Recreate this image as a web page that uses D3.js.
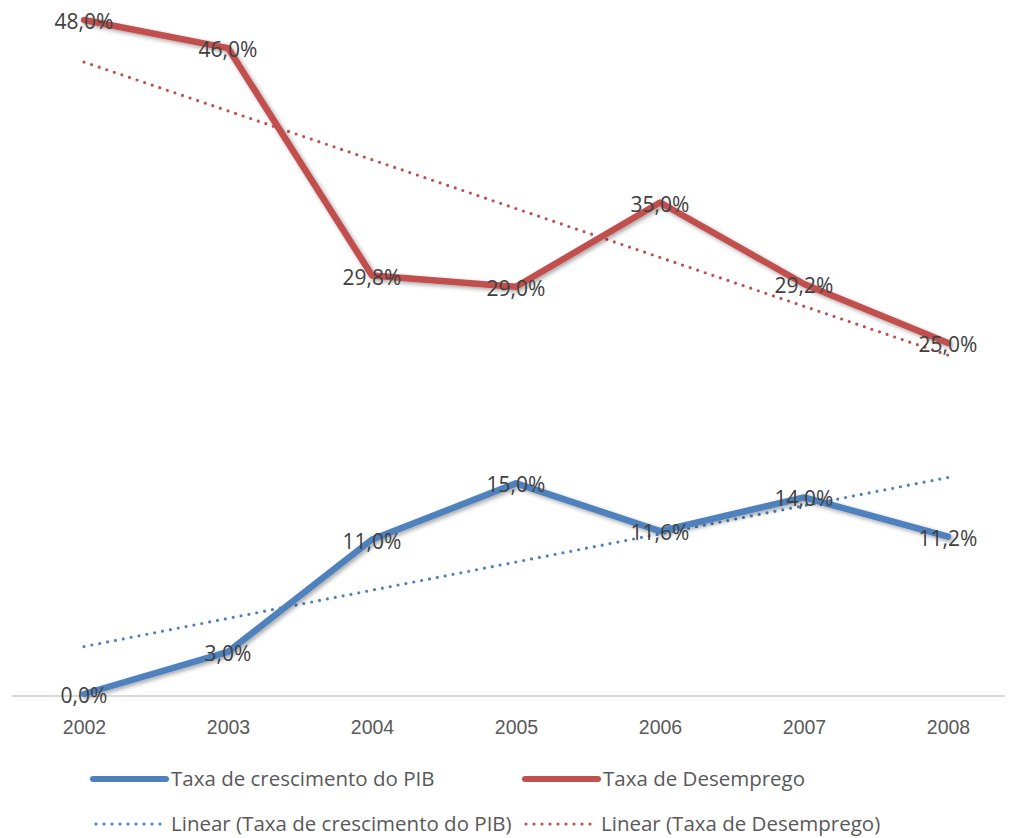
<!DOCTYPE html>
<html><head><meta charset="utf-8">
<script src="https://cdn.jsdelivr.net/npm/d3@7"></script>
<style>body{margin:0;background:#fff}svg{display:block;font-family:"Open Sans",sans-serif}</style>
</head><body><svg id="c" width="1017" height="838"></svg>
<script>
const years = ["2002","2003","2004","2005","2006","2007","2008"];
const pib = [0, 3.0, 11.0, 15.0, 11.6, 14.0, 11.2];
const desemprego = [48.0, 46.0, 29.8, 29.0, 35.0, 29.2, 25.0];
const seriesNames = ["Taxa de crescimento do PIB", "Taxa de Desemprego"];
const trendNames = ["Linear (Taxa de crescimento do PIB)", "Linear (Taxa de Desemprego)"];
const colors = ["#4F81BD", "#C0504D"];

const svg = d3.select("#c");
const defs = svg.append("defs");
const f = defs.append("filter").attr("id","sh").attr("x","-10%").attr("y","-10%").attr("width","130%").attr("height","130%");
f.append("feDropShadow").attr("dx",2).attr("dy",2).attr("stdDeviation",2).attr("flood-color","#000").attr("flood-opacity",0.35);

const x = d3.scalePoint().domain(years).range([84, 948]);
const y = d3.scaleLinear().domain([0, 48]).range([694, 20]);

// axis
const xAxis = d3.axisBottom(x).tickSize(0).tickPadding(24);
const gx = svg.append("g").attr("transform","translate(0,696)").call(xAxis);
gx.select(".domain").remove();
gx.append("line").attr("x1",12).attr("x2",1005).attr("stroke","#d9d9d9").attr("stroke-width",2);
gx.selectAll("text").attr("font-size",19.5).attr("fill","#595959").style("font-family","inherit");

function trend(vals){
  const mx = d3.mean(vals,(d,i)=>i), my = d3.mean(vals);
  const s = d3.sum(vals,(d,i)=>(i-mx)*(d-my)) / d3.sum(vals,(d,i)=>(i-mx)*(i-mx));
  return vals.map((d,i)=> my + s*(i-mx));
}

const all = [pib, desemprego];
const line = d3.line().x((d,i)=>x(years[i])).y(d=>y(d));

// trend lines
all.forEach((vals,k)=>{
  svg.append("path").attr("d", line(trend(vals)))
    .attr("fill","none").attr("stroke",colors[k]).attr("stroke-width",3.2)
    .attr("stroke-dasharray","0 8").attr("stroke-linecap","round");
});

// series lines
all.forEach((vals,k)=>{
  svg.append("path").attr("d", line(vals)).attr("fill","none").attr("stroke",colors[k])
    .attr("stroke-width",6.5).attr("stroke-linejoin","round").attr("stroke-linecap","round").attr("filter","url(#sh)");
});

// labels
const fmt = v => d3.format(".1f")(v).replace(".",",") + "%";
all.forEach((vals,k)=>{
  svg.append("g").selectAll("text").data(vals).join("text")
    .attr("x",(d,i)=>x(years[i])).attr("y",d=>y(d)+9)
    .attr("text-anchor","middle").attr("font-size",21).attr("fill","#404040")
    .text(d=>fmt(d));
});

// legend
const leg = [
  {name: seriesNames[0], c: colors[0], dot:false, x:93, y:779},
  {name: seriesNames[1], c: colors[1], dot:false, x:525, y:779},
  {name: trendNames[0], c: colors[0], dot:true, x:96, y:824},
  {name: trendNames[1], c: colors[1], dot:true, x:526, y:824}
];
leg.forEach(l=>{
  const g = svg.append("g");
  g.append("line").attr("x1",l.x).attr("x2",l.dot?l.x+70:l.x+73).attr("y1",l.y).attr("y2",l.y)
    .attr("stroke",l.c).attr("stroke-linecap","round")
    .attr("stroke-width", l.dot?3.2:6).attr("stroke-dasharray", l.dot?"0 8":null);
  g.append("text").attr("x",l.dot?l.x+75:l.x+78).attr("y",l.y+7).attr("font-size",20.5).attr("fill","#595959").text(l.name);
});
</script></body></html>
